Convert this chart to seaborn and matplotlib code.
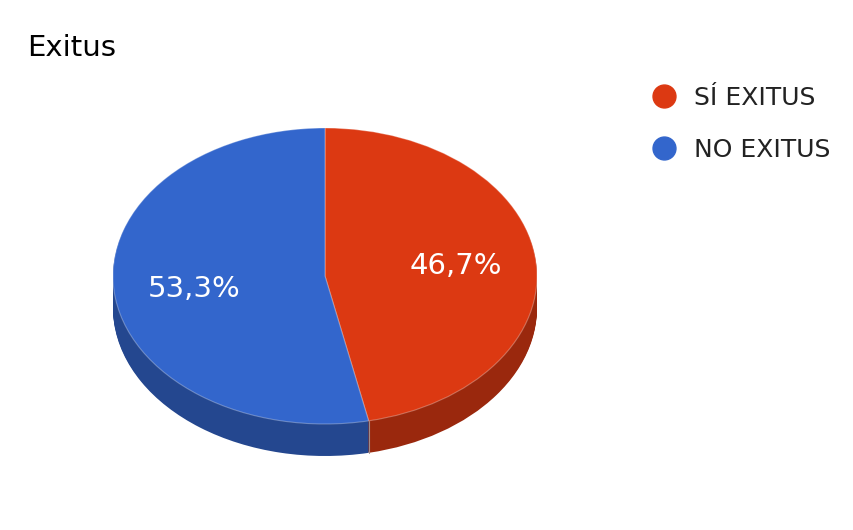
import matplotlib
matplotlib.use("Agg")
import numpy as np
import seaborn as sns
import matplotlib.pyplot as plt
from matplotlib.lines import Line2D

TITLE = "Exitus"
labels = ["SÍ EXITUS", "NO EXITUS"]
values = [46.7, 53.3]
value_labels = ["46,7%", "53,3%"]
top_colors = ["#dc3912", "#3366cc"]
side_colors = ["#9a280d", "#24478f"]

W, H = 854, 530
CX, CY = 325, 276
RX, RY = 212, 148
DEPTH = 32

sns.set_theme(style="white", font="DejaVu Sans")

fig = plt.figure(figsize=(W / 100, H / 100), dpi=100, facecolor="white")
# one data unit is the pie radius, axes span the whole figure
ax = fig.add_axes([0, 0, 1, 1])


def draw_pie(colors, offset=0.0, edge=None):
    ax.pie(values, colors=colors, startangle=90, counterclock=False, radius=1,
           center=(0, offset), wedgeprops={"linewidth": 0.8 if edge else 0, "edgecolor": edge or "none"})


# the rim is a stack of darker pies going down
for d in np.arange(DEPTH, 0, -1):
    draw_pie(side_colors, -d / RY)
draw_pie(top_colors, edge=(1, 1, 1, 0.3))

ax.set_aspect("auto")
ax.set_xlim(-CX / RX, (W - CX) / RX)
ax.set_ylim(-(H - CY) / RY, CY / RY)

# seam on the rim where the two slices meet
seam = np.deg2rad(values[0] * 3.6)
ax.plot([np.sin(seam)] * 2, [np.cos(seam), np.cos(seam) - DEPTH / RY], color="#a08a88", lw=0.8)

# percent labels, placed along the middle angle of each slice
start = 0
for v, txt in zip(values, value_labels):
    mid = np.deg2rad((start + v / 2) * 3.6)
    start += v
    ax.text(0.62 * np.sin(mid), 0.72 * np.cos(mid) - 1.5 / RY, txt, color="white", fontsize=21,
            ha="center", va="center")

fig.text(27.5 / W, 1 - 48 / H, TITLE, fontsize=21, color="black", ha="left", va="center")

handles = [Line2D([], [], linestyle="none", marker="o", markersize=16.5, color=c) for c in top_colors]
fig.legend(handles, labels, loc="upper left", bbox_to_anchor=(648 / W, 1 - 86 / H), frameon=False,
           fontsize=18, labelcolor="#222222", handletextpad=0.55, labelspacing=1.12,
           borderpad=0, borderaxespad=0, handlelength=1.28)

fig.savefig("out.png", dpi=100)
